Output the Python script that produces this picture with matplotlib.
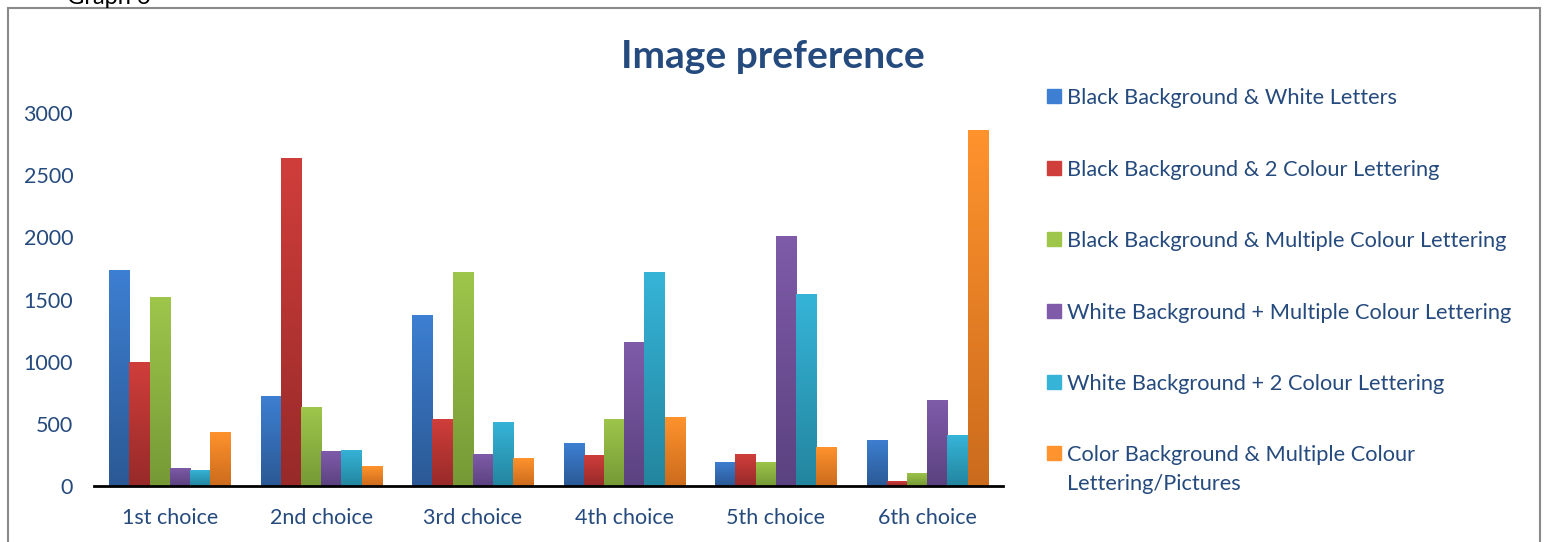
import numpy as np
import matplotlib
matplotlib.use("Agg")
import matplotlib.pyplot as plt
from matplotlib.colors import LinearSegmentedColormap
from matplotlib.patches import Rectangle

# data
categories = ["1st choice", "2nd choice", "3rd choice", "4th choice", "5th choice", "6th choice"]
series_names = [
    "Black Background & White Letters",
    "Black Background & 2 Colour Lettering",
    "Black Background & Multiple Colour Lettering",
    "White Background + Multiple Colour Lettering",
    "White Background + 2 Colour Lettering",
    "Color Background & Multiple Colour\nLettering/Pictures",
]
black_white = [1740, 725, 1375, 345, 195, 370]
black_2col = [1000, 2640, 540, 250, 255, 40]
black_multi = [1520, 635, 1720, 540, 195, 105]
white_multi = [145, 280, 255, 1160, 2010, 690]
white_2col = [130, 290, 515, 1720, 1545, 410]
color_multi = [435, 160, 225, 555, 315, 2865]
all_series = [black_white, black_2col, black_multi, white_multi, white_2col, color_multi]

# (top colour, bottom colour) of each bar gradient
shades = [
    ("#3d7fd2", "#2b5995"),
    ("#d03e3b", "#972a29"),
    ("#9ec64b", "#769936"),
    ("#7f5ba9", "#5b4280"),
    ("#36b4d8", "#23859e"),
    ("#ff932d", "#cb6b1d"),
]
text_col = "#254a7d"
plt.rcParams["font.family"] = ["Lato", "DejaVu Sans"]

fig = plt.figure(figsize=(15.44, 5.42), dpi=100)
W, H = 1544, 542
ax = fig.add_axes([94 / W, 1 - 486 / H, (1003 - 94) / W, (486 - 113) / H])

x = np.arange(len(categories))
w = 0.1333
for j, vals in enumerate(all_series):
    top, bottom = shades[j]
    cmap = LinearSegmentedColormap.from_list("g%d" % j, [bottom, top])
    bars = ax.bar(x + (j - 2.5) * w, vals, width=w, color=top, zorder=2)
    grad = np.linspace(0, 1, 128).reshape(-1, 1)
    for b in bars:
        bx, bw, bh = b.get_x(), b.get_width(), b.get_height()
        im = ax.imshow(grad, extent=[bx, bx + bw, 0, bh], origin="lower",
                       cmap=cmap, aspect="auto", zorder=2.5)
        im.set_clip_path(b)

ax.set_xlim(-0.5, 5.5)
ax.set_ylim(0, 3000)
ax.set_yticks(range(0, 3001, 500))
ax.set_xticks(x)
ax.set_xticklabels(categories)
ax.tick_params(length=0, labelsize=15.5, colors=text_col)
ax.tick_params(axis="y", pad=15)
ax.tick_params(axis="x", pad=16)
for s in ["left", "right", "top"]:
    ax.spines[s].set_visible(False)
ax.spines["bottom"].set_linewidth(2)
ax.spines["bottom"].set_zorder(5)

fig.text(773 / W, 1 - 57 / H, "Image preference", ha="center", va="center",
         fontsize=28, fontweight="bold", color=text_col)

# legend on the right
leg_y = [96, 168, 239, 311, 382, 453]
for j, name in enumerate(series_names):
    y = leg_y[j]
    fig.patches.append(Rectangle((1047 / W, 1 - (y + 7) / H), 14 / W, 14 / H,
                                 transform=fig.transFigure, color=shades[j][0], figure=fig))
    for k, line in enumerate(name.split("\n")):
        fig.text(1067 / W, 1 - (y + 2 + 29 * k) / H, line, va="center",
                 fontsize=15.7, color=text_col)

# outer frame and caption
fig.patches.append(Rectangle((8 / W, -0.1), (1540 - 8) / W, 1.1 - 8 / H,
                             transform=fig.transFigure, fill=False,
                             edgecolor="#8a8a8a", linewidth=1.5, figure=fig))
fig.text(67 / W, 1 - 4 / H, "Graph 6", va="baseline", fontsize=17, color="black")

fig.savefig("out.png", dpi=100)
